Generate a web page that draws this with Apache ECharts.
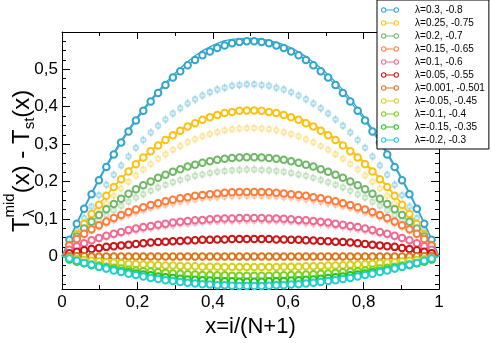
<!DOCTYPE html>
<html>
<head>
<meta charset="utf-8">
<script src="https://cdn.jsdelivr.net/npm/echarts@6/dist/echarts.min.js"></script>
<style>
html, body { margin: 0; padding: 0; background: #fff; }
#chart { width: 491px; height: 343px; }
</style>
</head>
<body>
<div id="chart"></div>
<script>
// x = i/(N+1), N = 50, plus the two boundary points
var xs = [0, 0.0196, 0.0392, 0.0588, 0.0784, 0.0980, 0.1176, 0.1373, 0.1569, 0.1765, 0.1961,
	0.2157, 0.2353, 0.2549, 0.2745, 0.2941, 0.3137, 0.3333, 0.3529, 0.3725, 0.3922,
	0.4118, 0.4314, 0.4510, 0.4706, 0.4902, 0.5098, 0.5294, 0.5490, 0.5686, 0.5882,
	0.6078, 0.6275, 0.6471, 0.6667, 0.6863, 0.7059, 0.7255, 0.7451, 0.7647, 0.7843,
	0.8039, 0.8235, 0.8431, 0.8627, 0.8824, 0.9020, 0.9216, 0.9412, 0.9608, 0.9804, 1];

var names = ['λ=0.3, -0.8', 'λ=0.25, -0.75', 'λ=0.2, -0.7', 'λ=0.15, -0.65', 'λ=0.1, -0.6',
	'λ=0.05, -0.55', 'λ=0.001, -0.501', 'λ=-0.05, -0.45', 'λ=-0.1, -0.4', 'λ=-0.15, -0.35', 'λ=-0.2, -0.3'];

var colors = ['#31a5cc', '#fdc113', '#70b866', '#ff7c3c', '#f26a90', '#cc1417',
	'#d9761b', '#d3d11c', '#80d11e', '#26c61d', '#22cfd0'];

// simulation data (open circles)
var s1 = [0, 0.044, 0.087, 0.127, 0.166, 0.203, 0.239, 0.272, 0.304, 0.334, 0.363, 0.389, 0.414, 0.437, 0.458, 0.478, 0.495, 0.511, 0.525, 0.538, 0.548, 0.557, 0.564, 0.570, 0.573, 0.575,
	0.575, 0.573, 0.570, 0.564, 0.557, 0.548, 0.538, 0.525, 0.511, 0.495, 0.478, 0.458, 0.437, 0.414, 0.389, 0.363, 0.334, 0.304, 0.272, 0.239, 0.203, 0.166, 0.127, 0.087, 0.044, 0];
var s2 = [0, 0.030, 0.059, 0.086, 0.113, 0.138, 0.162, 0.185, 0.206, 0.227, 0.246, 0.264, 0.281, 0.296, 0.311, 0.324, 0.336, 0.347, 0.356, 0.365, 0.372, 0.378, 0.383, 0.386, 0.389, 0.390,
	0.390, 0.389, 0.386, 0.383, 0.378, 0.372, 0.365, 0.356, 0.347, 0.336, 0.324, 0.311, 0.296, 0.281, 0.264, 0.246, 0.227, 0.206, 0.185, 0.162, 0.138, 0.113, 0.086, 0.059, 0.030, 0];
var s3 = [0, 0.030, 0.053, 0.074, 0.092, 0.110, 0.126, 0.140, 0.154, 0.167, 0.179, 0.190, 0.200, 0.210, 0.218, 0.226, 0.233, 0.240, 0.245, 0.250, 0.254, 0.258, 0.261, 0.263, 0.264, 0.265,
	0.265, 0.264, 0.263, 0.261, 0.258, 0.254, 0.250, 0.245, 0.240, 0.233, 0.226, 0.218, 0.210, 0.200, 0.190, 0.179, 0.167, 0.154, 0.140, 0.126, 0.110, 0.092, 0.074, 0.053, 0.030, 0];
var s4 = [0, 0.029, 0.046, 0.060, 0.072, 0.083, 0.093, 0.102, 0.110, 0.118, 0.125, 0.131, 0.137, 0.142, 0.147, 0.151, 0.155, 0.158, 0.162, 0.164, 0.166, 0.168, 0.170, 0.171, 0.172, 0.172,
	0.172, 0.172, 0.171, 0.170, 0.168, 0.166, 0.164, 0.162, 0.158, 0.155, 0.151, 0.147, 0.142, 0.137, 0.131, 0.125, 0.118, 0.110, 0.102, 0.093, 0.083, 0.072, 0.060, 0.046, 0.029, 0];
var s5 = [0, 0.017, 0.027, 0.035, 0.043, 0.049, 0.055, 0.060, 0.065, 0.070, 0.074, 0.078, 0.081, 0.084, 0.087, 0.090, 0.092, 0.094, 0.096, 0.097, 0.099, 0.100, 0.101, 0.101, 0.102, 0.102,
	0.102, 0.102, 0.101, 0.101, 0.100, 0.099, 0.097, 0.096, 0.094, 0.092, 0.090, 0.087, 0.084, 0.081, 0.078, 0.074, 0.070, 0.065, 0.060, 0.055, 0.049, 0.043, 0.035, 0.027, 0.017, 0];
var s6 = [0, 0.008, 0.012, 0.016, 0.019, 0.022, 0.025, 0.027, 0.029, 0.031, 0.033, 0.035, 0.037, 0.038, 0.039, 0.040, 0.041, 0.042, 0.043, 0.044, 0.044, 0.045, 0.045, 0.046, 0.046, 0.046,
	0.046, 0.046, 0.046, 0.045, 0.045, 0.044, 0.044, 0.043, 0.042, 0.041, 0.040, 0.039, 0.038, 0.037, 0.035, 0.033, 0.031, 0.029, 0.027, 0.025, 0.022, 0.019, 0.016, 0.012, 0.008, 0];
var s7 = [0, 0, 0, 0, -0.001, -0.001, -0.001, -0.001, -0.001, -0.001, -0.001, -0.001, -0.001, -0.001, -0.001, -0.001, -0.001, -0.001, -0.001, -0.001, -0.001, -0.001, -0.001, -0.001, -0.001, -0.001,
	-0.001, -0.001, -0.001, -0.001, -0.001, -0.001, -0.001, -0.001, -0.001, -0.001, -0.001, -0.001, -0.001, -0.001, -0.001, -0.001, -0.001, -0.001, -0.001, -0.001, -0.001, -0.001, 0, 0, 0, 0];
var s8 = [0, -0.005, -0.008, -0.010, -0.012, -0.014, -0.016, -0.017, -0.019, -0.020, -0.021, -0.022, -0.023, -0.024, -0.025, -0.025, -0.026, -0.027, -0.027, -0.028, -0.028, -0.028, -0.029, -0.029, -0.029, -0.029,
	-0.029, -0.029, -0.029, -0.029, -0.028, -0.028, -0.028, -0.027, -0.027, -0.026, -0.025, -0.025, -0.024, -0.023, -0.022, -0.021, -0.020, -0.019, -0.017, -0.016, -0.014, -0.012, -0.010, -0.008, -0.005, 0];
var s9 = [0, -0.009, -0.014, -0.018, -0.022, -0.025, -0.028, -0.031, -0.033, -0.036, -0.038, -0.040, -0.041, -0.043, -0.044, -0.046, -0.047, -0.048, -0.049, -0.050, -0.050, -0.051, -0.051, -0.052, -0.052, -0.052,
	-0.052, -0.052, -0.052, -0.051, -0.051, -0.050, -0.050, -0.049, -0.048, -0.047, -0.046, -0.044, -0.043, -0.041, -0.040, -0.038, -0.036, -0.033, -0.031, -0.028, -0.025, -0.022, -0.018, -0.014, -0.009, 0];
var s10 = [0, -0.008, -0.014, -0.019, -0.024, -0.028, -0.032, -0.036, -0.040, -0.043, -0.046, -0.049, -0.051, -0.054, -0.056, -0.058, -0.060, -0.062, -0.063, -0.064, -0.065, -0.066, -0.067, -0.067, -0.068, -0.068,
	-0.068, -0.068, -0.067, -0.067, -0.066, -0.065, -0.064, -0.063, -0.062, -0.060, -0.058, -0.056, -0.054, -0.051, -0.049, -0.046, -0.043, -0.040, -0.036, -0.032, -0.028, -0.024, -0.019, -0.014, -0.008, 0];
var s11 = [0, -0.006, -0.012, -0.018, -0.023, -0.028, -0.033, -0.038, -0.042, -0.047, -0.050, -0.054, -0.058, -0.061, -0.064, -0.066, -0.069, -0.071, -0.073, -0.075, -0.076, -0.078, -0.078, -0.079, -0.080, -0.080,
	-0.080, -0.080, -0.079, -0.078, -0.078, -0.076, -0.075, -0.073, -0.071, -0.069, -0.066, -0.064, -0.061, -0.058, -0.054, -0.050, -0.047, -0.042, -0.038, -0.033, -0.028, -0.023, -0.018, -0.012, -0.006, 0];

// second data set, pale points with error bars
var f1 = [0, 0.035, 0.069, 0.102, 0.133, 0.163, 0.191, 0.218, 0.243, 0.267, 0.290, 0.311, 0.331, 0.349, 0.366, 0.382, 0.396, 0.409, 0.420, 0.430, 0.439, 0.446, 0.451, 0.456, 0.458, 0.460,
	0.460, 0.458, 0.456, 0.451, 0.446, 0.439, 0.430, 0.420, 0.409, 0.396, 0.382, 0.366, 0.349, 0.331, 0.311, 0.290, 0.267, 0.243, 0.218, 0.191, 0.163, 0.133, 0.102, 0.069, 0.035, 0];
var f2 = [0, 0.026, 0.052, 0.076, 0.099, 0.121, 0.142, 0.162, 0.181, 0.199, 0.216, 0.232, 0.247, 0.261, 0.273, 0.285, 0.295, 0.305, 0.313, 0.321, 0.327, 0.332, 0.337, 0.340, 0.342, 0.343,
	0.343, 0.342, 0.340, 0.337, 0.332, 0.327, 0.321, 0.313, 0.305, 0.295, 0.285, 0.273, 0.261, 0.247, 0.232, 0.216, 0.199, 0.181, 0.162, 0.142, 0.121, 0.099, 0.076, 0.052, 0.026, 0];
var f3 = [0, 0.026, 0.046, 0.064, 0.081, 0.096, 0.110, 0.123, 0.135, 0.146, 0.157, 0.166, 0.175, 0.184, 0.191, 0.198, 0.204, 0.210, 0.215, 0.219, 0.223, 0.226, 0.228, 0.230, 0.231, 0.232,
	0.232, 0.231, 0.230, 0.228, 0.226, 0.223, 0.219, 0.215, 0.210, 0.204, 0.198, 0.191, 0.184, 0.175, 0.166, 0.157, 0.146, 0.135, 0.123, 0.110, 0.096, 0.081, 0.064, 0.046, 0.026, 0];
var f4 = [0, 0.027, 0.043, 0.056, 0.068, 0.078, 0.088, 0.096, 0.104, 0.111, 0.117, 0.123, 0.129, 0.134, 0.138, 0.142, 0.146, 0.149, 0.152, 0.155, 0.157, 0.158, 0.160, 0.161, 0.162, 0.162,
	0.162, 0.162, 0.161, 0.160, 0.158, 0.157, 0.155, 0.152, 0.149, 0.146, 0.142, 0.138, 0.134, 0.129, 0.123, 0.117, 0.111, 0.104, 0.096, 0.088, 0.078, 0.068, 0.056, 0.043, 0.027, 0];
var f5 = [0, 0.016, 0.025, 0.033, 0.040, 0.046, 0.051, 0.056, 0.061, 0.065, 0.069, 0.072, 0.075, 0.078, 0.081, 0.083, 0.086, 0.087, 0.089, 0.091, 0.092, 0.093, 0.094, 0.094, 0.095, 0.095,
	0.095, 0.095, 0.094, 0.094, 0.093, 0.092, 0.091, 0.089, 0.087, 0.086, 0.083, 0.081, 0.078, 0.075, 0.072, 0.069, 0.065, 0.061, 0.056, 0.051, 0.046, 0.040, 0.033, 0.025, 0.016, 0];

// theory curves (solid lines)
var thX = [0, 0.05, 0.1, 0.15, 0.2, 0.25, 0.3, 0.35, 0.4, 0.45, 0.5, 0.55, 0.6, 0.65, 0.7, 0.75, 0.8, 0.85, 0.9, 0.95, 1];
var th1 = [0, 0.112, 0.211, 0.298, 0.373, 0.436, 0.490, 0.534, 0.564, 0.580, 0.583, 0.577, 0.561, 0.532, 0.491, 0.439, 0.374, 0.298, 0.212, 0.113, 0];
var th2 = [0, 0.075, 0.141, 0.200, 0.252, 0.295, 0.330, 0.358, 0.378, 0.391, 0.395, 0.391, 0.379, 0.360, 0.332, 0.297, 0.254, 0.202, 0.142, 0.076, 0];
var th11 = [0, -0.016, -0.030, -0.042, -0.053, -0.062, -0.070, -0.076, -0.080, -0.082, -0.083, -0.082, -0.080, -0.076, -0.070, -0.062, -0.053, -0.042, -0.030, -0.016, 0];

var yLabelVals = [0, 0.1, 0.2, 0.3, 0.4, 0.5];
var yMinorVals = [-0.075, -0.05, -0.025, 0.025, 0.05, 0.075, 0.125, 0.15, 0.175, 0.225, 0.25, 0.275,
	0.325, 0.35, 0.375, 0.425, 0.45, 0.475, 0.525, 0.55, 0.575];

var simSets = [s1, s2, s3, s4, s5, s6, s7, s8, s9, s10, s11];
var paleSets = [f1, f2, f3, f4, f5];
var theorySets = [[th1, 0], [th2, 1], [th11, 10]];

function comma(v) {
	return String(v).replace('.', ',');
}

function pairs(xv, yv) {
	return xv.map(function (x, k) {
		return [x, yv[k]];
	});
}

var series = [];

paleSets.forEach(function (arr, i) {
	var pts = pairs(xs, arr).slice(1, -1);
	series.push({
		type: 'scatter', data: pts, symbol: 'rect', symbolSize: [1.3, 9],
		itemStyle: { color: colors[i], opacity: 0.3 }, silent: true, z: 1
	});
	series.push({
		type: 'scatter', data: pts, symbol: 'emptyCircle', symbolSize: 4.5,
		itemStyle: { color: colors[i], borderWidth: 1, opacity: 0.35 }, silent: true, z: 1
	});
});

theorySets.forEach(function (t) {
	series.push({
		type: 'line', data: pairs(thX, t[0]), smooth: true, showSymbol: false,
		lineStyle: { color: colors[t[1]], width: 1.3 }, silent: true, z: 2
	});
});

simSets.forEach(function (arr, i) {
	var pts = pairs(xs, arr).map(function (p, k) {
		return (k === 0 || k === xs.length - 1) ? { value: p, symbol: 'none' } : p;
	});
	series.push({
		name: names[i], type: 'line', data: pts,
		symbol: 'emptyCircle', symbolSize: 6.5,
		lineStyle: { color: colors[i], width: 1.2 },
		itemStyle: { color: colors[i], borderWidth: 1.2 },
		silent: true, z: 3
	});
});

var axisBlack = { onZero: false, lineStyle: { color: '#000', width: 1 } };

var xBase = {
	type: 'value', min: 0, max: 1, interval: 0.2,
	axisLine: axisBlack, splitLine: { show: false },
	axisTick: { inside: true, length: 7, lineStyle: { color: '#000' } },
	minorTick: { show: true, splitNumber: 2, length: 4, lineStyle: { color: '#000' } }
};

function yAxis(pos, ticks, len, labels, line) {
	return {
		type: 'value', position: pos, min: -0.088, max: 0.6,
		axisLine: line ? axisBlack : { show: false, onZero: false },
		splitLine: { show: false },
		axisTick: { inside: true, length: len, customValues: ticks, lineStyle: { color: '#000' } },
		axisLabel: labels ? {
			customValues: yLabelVals, formatter: comma, fontSize: 17,
			color: '#000', fontFamily: 'Liberation Sans', margin: 4
		} : { show: false }
	};
}

var legendIcon = 'path://M0,3A3,3 0 1,1 6,3A3,3 0 1,1 0,3ZM1.1,3A1.9,1.9 0 1,0 4.9,3A1.9,1.9 0 1,0 1.1,3Z' +
	'M6,2.5L14,2.5L14,3.5L6,3.5ZM14,3A3,3 0 1,1 20,3A3,3 0 1,1 14,3ZM15.1,3A1.9,1.9 0 1,0 18.9,3A1.9,1.9 0 1,0 15.1,3Z';

var chart = echarts.init(document.getElementById('chart'));
chart.setOption({
	animation: false,
	backgroundColor: '#fff',
	grid: { left: 62, right: 52, top: 32, bottom: 46 },
	xAxis: [
		Object.assign({}, xBase, {
			position: 'bottom',
			axisLabel: { formatter: comma, fontSize: 17, color: '#000', fontFamily: 'Liberation Sans', margin: 5 },
			name: 'x=i/(N+1)', nameLocation: 'middle', nameGap: 24,
			nameTextStyle: { fontSize: 22, color: '#000', fontFamily: 'Liberation Sans' }
		}),
		Object.assign({}, xBase, { position: 'top', axisLabel: { show: false } })
	],
	yAxis: [
		yAxis('left', yLabelVals, 8, true, true),
		yAxis('left', yMinorVals, 4, false, false),
		yAxis('right', yLabelVals, 8, false, true),
		yAxis('right', yMinorVals, 4, false, false)
	],
	legend: {
		data: names, orient: 'vertical', left: 377, top: 0,
		backgroundColor: '#fff', borderColor: '#000', borderWidth: 1,
		padding: [4, 4, 3, 4], itemWidth: 18, itemHeight: 7, itemGap: 1,
		icon: legendIcon, selectedMode: false,
		formatter: function (n) { return '    ' + n; },
		textStyle: { fontSize: 10, lineHeight: 12, color: '#000', fontFamily: 'Liberation Sans' }
	},
	graphic: [{
		type: 'group', x: 22, y: 232, rotation: Math.PI / 2, silent: true,
		children: [{
			type: 'text', x: 0, y: 0,
			style: {
				text: '{b|T}{l|λ}{b|(x) - T}{s|st}{b|(x)}',
				verticalAlign: 'middle', align: 'left',
				rich: {
					b: { fontSize: 24, lineHeight: 30, fontFamily: 'Liberation Sans', fill: '#000' },
					l: { fontSize: 15, lineHeight: 15, width: 24, verticalAlign: 'bottom', fontFamily: 'Liberation Sans', fill: '#000' },
					s: { fontSize: 15, lineHeight: 15, verticalAlign: 'bottom', fontFamily: 'Liberation Sans', fill: '#000' }
				}
			}
		}, {
			type: 'text', x: 14.5, y: -12,
			style: { text: 'mid', fontSize: 15, fontFamily: 'Liberation Sans', fill: '#000', verticalAlign: 'middle', align: 'left' }
		}]
	}],
	series: series
});
</script>
</body>
</html>
